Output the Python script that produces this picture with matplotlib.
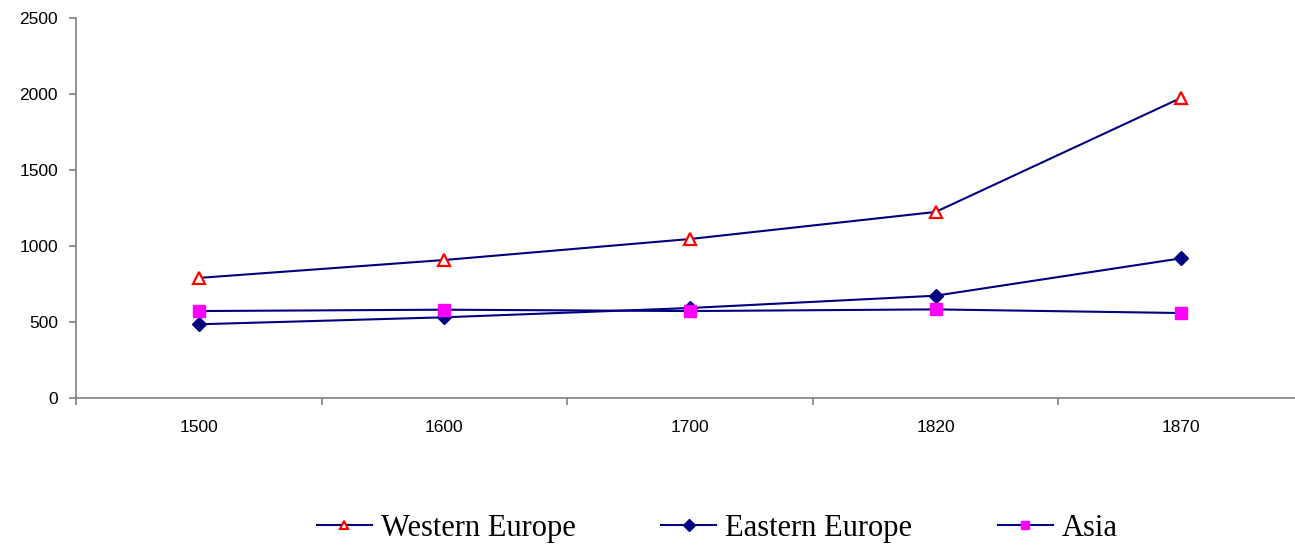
import numpy as np
import matplotlib.pyplot as plt

# data
years = ['1500', '1600', '1700', '1820', '1870']
western_europe = [790, 908, 1046, 1224, 1975]
eastern_europe = [485, 531, 592, 673, 919]
asia = [572, 581, 572, 583, 559]

navy = '#000080'
grey = '#808080'

fig = plt.figure(figsize=(12.95, 5.45), dpi=100)
ax = fig.add_axes([76 / 1295, 147 / 545, 1228 / 1295, 380 / 545])

x = np.arange(len(years))
ax.plot(x, western_europe, color=navy, lw=1.5, marker='^', ms=9,
        mfc='white', mec='red', mew=1.6, label='Western Europe')
ax.plot(x, eastern_europe, color=navy, lw=1.5, marker='D', ms=7,
        mfc=navy, mec=navy, label='Eastern Europe')
ax.plot(x, asia, color=navy, lw=1.5, marker='s', ms=8,
        mfc='#ff00ff', mec='#ff00ff', label='Asia')

ax.set_xlim(-0.5, len(years) - 0.5)
ax.set_ylim(0, 2500)
ax.set_yticks(range(0, 2501, 500))
ax.set_xticks(x)
ax.set_xticklabels(years)
ax.set_xticks(np.arange(-0.5, len(years), 1), minor=True)

for side in ['top', 'right']:
    ax.spines[side].set_visible(False)
for side in ['left', 'bottom']:
    ax.spines[side].set_color(grey)
    ax.spines[side].set_linewidth(1.2)

ax.tick_params(axis='x', which='major', length=0, pad=16,
               labelsize=12.5, labelfontfamily='Liberation Sans')
ax.tick_params(axis='x', which='minor', length=5, color=grey, width=1.2)
ax.tick_params(axis='y', length=5, color=grey, width=1.2, pad=8,
               labelsize=12.5, labelfontfamily='Liberation Sans')

leg = fig.legend(loc='center', bbox_to_anchor=(0.554, 0.03), ncol=3,
                 frameon=False, handlelength=1.8, handletextpad=0.3,
                 columnspacing=2.8,
                 prop={'family': 'Liberation Serif', 'size': 22})
for h in leg.legend_handles:
    h.set_markersize(6)

fig.savefig('out.png', dpi=100)
